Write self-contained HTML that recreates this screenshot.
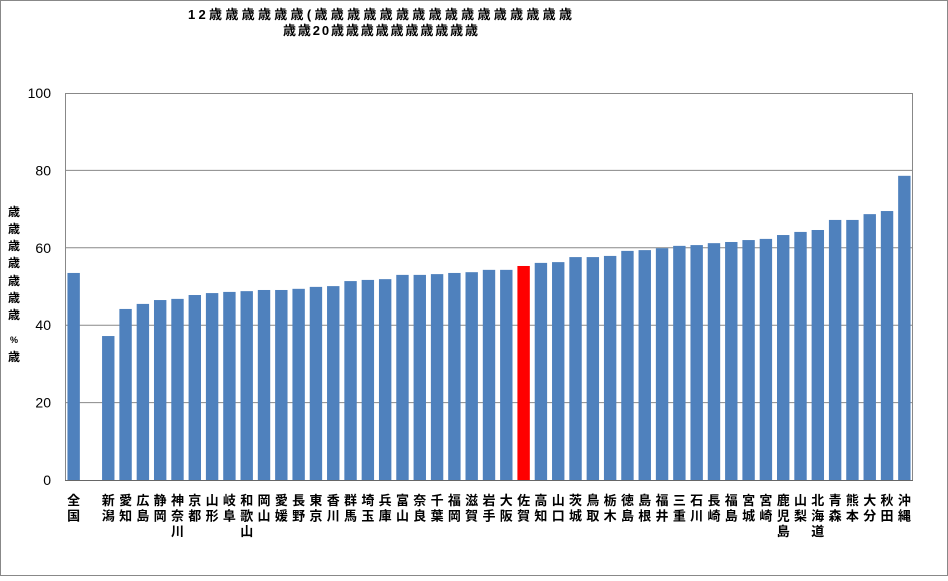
<!DOCTYPE html>
<html><head><meta charset="utf-8">
<style>
html,body{margin:0;padding:0;background:#fff;}
body{width:948px;height:576px;overflow:hidden;font-family:"Liberation Sans","Noto Sans CJK JP",sans-serif;}
</style></head>
<body>
<svg id="chart" width="948" height="576" xmlns="http://www.w3.org/2000/svg" font-family="Liberation Sans, Noto Sans CJK JP, sans-serif">
<rect x="0.5" y="0.5" width="947" height="575" fill="#fff" stroke="#888"/>
<text x="188" y="19" font-size="13" font-weight="bold" textLength="384" lengthAdjust="spacing">12歳歳歳歳歳歳(歳歳歳歳歳歳歳歳歳歳歳歳歳歳歳歳</text>
<text x="283" y="35" font-size="13" font-weight="bold" textLength="195" lengthAdjust="spacing">歳歳20歳歳歳歳歳歳歳歳歳歳</text>
<g id="ytitle" font-size="12" font-weight="bold" text-anchor="middle"></g>
<g id="grid"></g><g id="bars"></g><g id="labels"></g>
</svg>
<script>
const categories=["全国","","新潟","愛知","広島","静岡","神奈川","京都","山形","岐阜","和歌山","岡山","愛媛","長野","東京","香川","群馬","埼玉","兵庫","富山","奈良","千葉","福岡","滋賀","岩手","大阪","佐賀","高知","山口","茨城","鳥取","栃木","徳島","島根","福井","三重","石川","長崎","福島","宮城","宮崎","鹿児島","山梨","北海道","青森","熊本","大分","秋田","沖縄"];
const values=[53.5,null,37.2,44.2,45.5,46.5,46.8,47.8,48.3,48.6,48.8,49.1,49.1,49.4,49.9,50.1,51.4,51.7,51.9,53.0,53.0,53.2,53.5,53.7,54.3,54.3,55.3,56.1,56.3,57.6,57.6,57.9,59.2,59.4,59.9,60.5,60.7,61.2,61.5,62.0,62.3,63.3,64.1,64.6,67.2,67.2,68.7,69.5,78.6];
const yTicks=[0,20,40,60,80,100];
const highlight="佐賀";
const yTitleChars=["歳","歳","歳","歳","歳","歳","歳","%","歳"];

const NS="http://www.w3.org/2000/svg";
const L=65,R=913,T=93,B=480;
const slot=(R-L)/categories.length;
const y=v=>B-(v/100)*(B-T);
const xc=i=>L+slot*(i+0.5);
function mk(tag,attrs,parent){const e=document.createElementNS(NS,tag);for(const k in attrs)e.setAttribute(k,attrs[k]);parent.appendChild(e);return e;}
const grid=document.getElementById('grid'),bars=document.getElementById('bars'),labels=document.getElementById('labels');
yTicks.forEach(t=>{
  if(t>0&&t<100){const g=mk('line',{x1:L,x2:R,y1:y(t),y2:y(t),stroke:'#888','stroke-width':1},grid);
  
  }
  const tx=mk('text',{x:51,y:y(t)+5,'font-size':14,'text-anchor':'end'},grid);tx.textContent=t;
  
  
});
const frame=mk('rect',{x:L+0.5,y:T+0.5,width:R-L-1,height:B-T,fill:'none',stroke:'#888'},grid);


const bw=12.4;
categories.forEach((c,i)=>{
  const v=values[i];
  if(v!=null){
    const r=mk('rect',{x:xc(i)-bw/2,y:y(v),width:bw,height:B-y(v),fill:c===highlight?'#ff0000':'#4f81bd'},bars);
    
    
  }
  if(c){
    const g=mk('text',{'font-size':13,'font-weight':'bold','text-anchor':'middle'},labels);
    
    
    [...c].forEach((ch,k)=>{const ts=mk('tspan',{x:xc(i),y:505+k*15.5},g);ts.textContent=ch;});
  }
});
const yt=document.getElementById('ytitle');
const yPos=[216,233,250,267,285,302,319,343,361];
yTitleChars.forEach((ch,k)=>{const t=mk('text',{x:14,y:yPos[k],'font-size':ch==='%'?9:12},yt);t.textContent=ch;});
const ax=mk('line',{x1:L,x2:R,y1:B+0.5,y2:B+0.5,stroke:'#666'},grid);


</script>
</body></html>
